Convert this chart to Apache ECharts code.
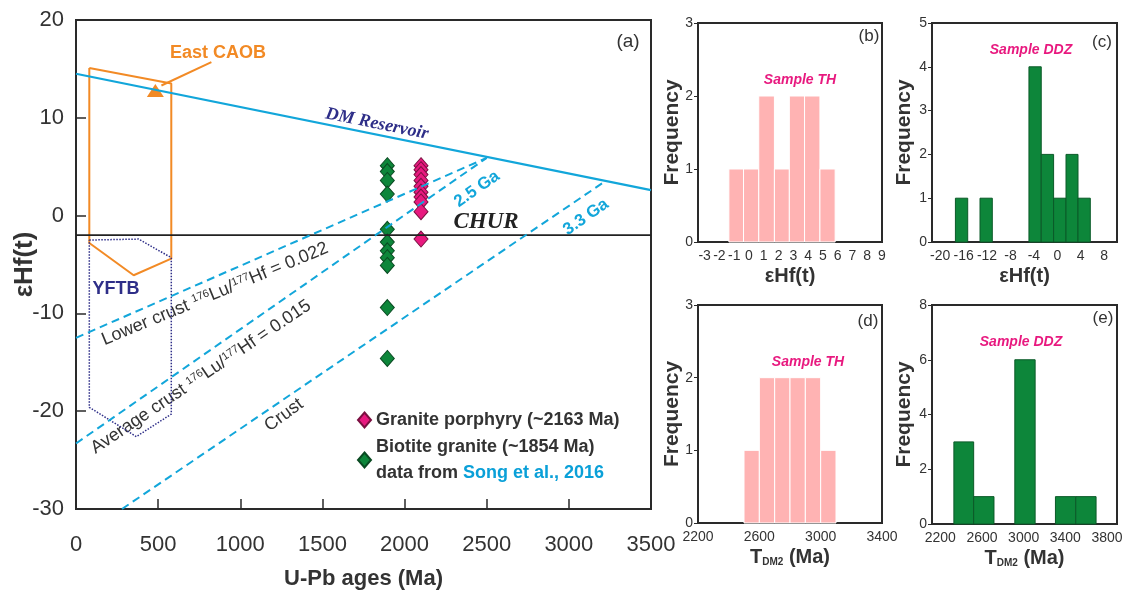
<!DOCTYPE html>
<html>
<head>
<meta charset="utf-8">
<script src="https://cdn.jsdelivr.net/npm/echarts@6/dist/echarts.min.js"></script>
<style>
  html, body { margin: 0; padding: 0; background: #fff; }
  #main { width: 1126px; height: 595px; }
</style>
</head>
<body>
<div id="main"></div>
<script>
// (a) eHf(t) vs U-Pb age
const porphyryName = 'Granite porphyry (~2163 Ma)';
const biotiteName = 'Biotite granite (~1854 Ma)';
const porphyryAge = 2100;
const porphyryEhf = [5.1, 4.7, 4.2, 3.6, 3.0, 2.4, 1.9, 1.4, 0.4, -2.4];
const biotiteAge = 1895;
const biotiteEhf = [5.1, 4.5, 3.6, 2.2, -1.4, -2.7, -3.6, -4.3, -5.1, -9.4, -14.6];

const dmLine = [[0, 14.5], [3500, 2.6]];
const churLine = [[0, -2], [3500, -2]];
const lowerCrustLine = [[0, -12.5], [2500, 5.9]];
const avgCrustLine = [[0, -23.3], [2500, 5.9]];
const crustLine = [[280, -30], [3220, 3.5]];
const eastCaobShape = [[81, 15.1], [580, 13.5], [580, -4.4], [351, -6.1], [81, -2.8], [81, 15.1]];
const yftbShape = [[81, -2.5], [381, -2.4], [580, -4.3], [580, -20.3], [367, -22.6], [81, -19.6], [81, -2.5]];
const caobPointer = [[824, 15.7], [520, 13.3]];
const caobPoint = [[483, 12.8]];

// (b) Sample TH eHf(t)
const thEhfBins = [[-1.36, -0.37], [-0.37, 0.66], [0.66, 1.72], [1.72, 2.73], [2.73, 3.76], [3.76, 4.8], [4.8, 5.83]];
const thEhfCounts = [1, 1, 2, 1, 2, 2, 1];
const thEhfTicks = [-3, -2, -1, 0, 1, 2, 3, 4, 5, 6, 7, 8, 9];
// (c) Sample DDZ eHf(t)
const ddzEhfBins = [[-17.4, -15.3], [-13.2, -11.1], [-4.84, -2.74], [-2.74, -0.63], [-0.63, 1.49], [1.49, 3.54], [3.54, 5.64]];
const ddzEhfCounts = [1, 1, 4, 2, 1, 2, 1];
const ddzEhfTicks = [-20, -16, -12, -8, -4, 0, 4, 8];
// (d) Sample TH TDM2
const thTdmBins = [[2500, 2600], [2600, 2700], [2700, 2800], [2800, 2900], [2900, 3000], [3000, 3100]];
const thTdmCounts = [1, 2, 2, 2, 2, 1];
const thTdmTicks = [2200, 2600, 3000, 3400];
// (e) Sample DDZ TDM2
const ddzTdmBins = [[2330, 2520], [2520, 2715], [2915, 3110], [3305, 3500], [3500, 3695]];
const ddzTdmCounts = [3, 1, 6, 1, 1];
const ddzTdmTicks = [2200, 2600, 3000, 3400, 3800];

const SANS = 'Liberation Sans';
const SERIF = 'Liberation Serif';
const CYAN = '#12a6da';
const ORANGE = '#f28a25';
const NAVY = '#2e2e88';
const PINK = '#e8197f';
const GREEN = '#0d863a';
const TXT = '#333';
const plain = v => String(v);

function histData(bins, counts) {
  return bins.map((b, i) => [b[0], b[1], counts[i]]);
}

function histRender(fill, stroke) {
  return function (params, api) {
    const p0 = api.coord([api.value(0), api.value(2)]);
    const p1 = api.coord([api.value(1), 0]);
    return {
      type: 'rect',
      shape: { x: p0[0], y: p0[1], width: p1[0] - p0[0], height: p1[1] - p0[1] },
      style: { fill: fill, stroke: stroke, lineWidth: 1 }
    };
  };
}

function lineSeries(data, color, width, type) {
  return {
    type: 'line', xAxisIndex: 0, yAxisIndex: 0, data: data,
    showSymbol: false, silent: true, animation: false,
    lineStyle: { color: color, width: width, type: type || 'solid' }
  };
}

const frame = { show: true, borderColor: '#2a2a2a', borderWidth: 2, backgroundColor: 'transparent', outerBoundsMode: 'none', containLabel: false };

function panelX(grid, min, max, ticks, name) {
  return {
    type: 'value', gridIndex: grid, min: min, max: max,
    splitLine: { show: false },
    axisLine: { show: true, onZero: false, lineStyle: { color: '#2a2a2a', width: 2 } },
    axisTick: { show: false },
    axisLabel: { customValues: ticks, formatter: plain, fontSize: 14, color: TXT, fontFamily: SANS, margin: 7 },
    name: name, nameLocation: 'middle', nameGap: 24, nameMoveOverlap: false,
    nameTextStyle: {
      fontSize: 20, fontWeight: 'bold', color: TXT, fontFamily: SANS,
      rich: { sub: { fontSize: 10, fontWeight: 'bold', color: TXT, fontFamily: SANS, verticalAlign: 'bottom' } }
    }
  };
}

function panelY(grid, max, interval, gap) {
  return {
    type: 'value', gridIndex: grid, min: 0, max: max, interval: interval,
    splitLine: { show: false },
    axisLine: { show: true, onZero: false, lineStyle: { color: '#2a2a2a', width: 2 } },
    axisTick: { show: true, inside: false, length: 4, lineStyle: { color: '#2a2a2a' } },
    axisLabel: { fontSize: 14, color: TXT, fontFamily: SANS, margin: 5 },
    name: 'Frequency', nameLocation: 'middle', nameGap: gap, nameMoveOverlap: false,
    nameTextStyle: { fontSize: 21, fontWeight: 'bold', color: TXT, fontFamily: SANS }
  };
}

function txt(x, y, text, font, color, rotDeg, rich) {
  return {
    type: 'text', x: x, y: y, rotation: (rotDeg || 0) * Math.PI / 180, silent: true,
    style: Object.assign({ text: text, fill: color, align: 'center', verticalAlign: 'middle', rich: rich || {} }, font)
  };
}

const supRich = { sup: { fontSize: 11, fontFamily: SANS, fill: TXT, color: TXT, verticalAlign: 'top' } };

const chart = echarts.init(document.getElementById('main'), null, { renderer: 'canvas' });

chart.setOption({
  animation: false,
  backgroundColor: '#fff',
  grid: [
    Object.assign({ left: 76, top: 20, width: 575, height: 489 }, frame),
    Object.assign({ left: 698, top: 23, width: 184, height: 219 }, frame),
    Object.assign({ left: 932, top: 23, width: 185, height: 219 }, frame),
    Object.assign({ left: 698, top: 305, width: 184, height: 218 }, frame),
    Object.assign({ left: 932, top: 305, width: 185, height: 219 }, frame)
  ],
  xAxis: [
    {
      type: 'value', gridIndex: 0, min: 0, max: 3500, interval: 500,
      splitLine: { show: false },
      axisLine: { show: true, onZero: false, lineStyle: { color: '#2a2a2a', width: 2 } },
      axisTick: { show: true, inside: true, length: 10, lineStyle: { color: '#2a2a2a', width: 1.5 } },
      axisLabel: { formatter: plain, fontSize: 22, color: TXT, fontFamily: SANS, margin: 25 },
      name: 'U-Pb ages (Ma)', nameLocation: 'middle', nameGap: 59, nameMoveOverlap: false,
      nameTextStyle: { fontSize: 22, fontWeight: 'bold', color: TXT, fontFamily: SANS }
    },
    panelX(1, -3.45, 9, thEhfTicks, 'εHf(t)'),
    panelX(2, -21.4, 10.2, ddzEhfTicks, 'εHf(t)'),
    panelX(3, 2200, 3400, thTdmTicks, 'T{sub|DM2} (Ma)'),
    panelX(4, 2120, 3896, ddzTdmTicks, 'T{sub|DM2} (Ma)')
  ],
  yAxis: [
    {
      type: 'value', gridIndex: 0, min: -30, max: 20, interval: 10,
      splitLine: { show: false },
      axisLine: { show: true, onZero: false, lineStyle: { color: '#2a2a2a', width: 2 } },
      axisTick: { show: true, inside: true, length: 10, lineStyle: { color: '#2a2a2a', width: 1.5 } },
      axisLabel: { fontSize: 22, color: TXT, fontFamily: SANS, margin: 12 },
      name: 'εHf(t)', nameLocation: 'middle', nameGap: 38, nameMoveOverlap: false,
      nameTextStyle: { fontSize: 26, fontWeight: 'bold', color: TXT, fontFamily: SANS }
    },
    panelY(1, 3, 1, 15),
    panelY(2, 5, 1, 17),
    panelY(3, 3, 1, 15),
    panelY(4, 8, 2, 17)
  ],
  legend: {
    data: [porphyryName, biotiteName],
    orient: 'vertical', left: 352, top: 402, itemGap: 1,
    itemWidth: 13, itemHeight: 15, selectedMode: false,
    textStyle: {
      fontSize: 18, fontWeight: 'bold', color: TXT, fontFamily: SANS, lineHeight: 26,
      rich: { blue: { fontSize: 18, fontWeight: 'bold', color: '#0aa0d8', fontFamily: SANS, lineHeight: 26 } }
    },
    formatter: function (name) {
      return name === biotiteName ? name + '\ndata from {blue|Song et al., 2016}' : name;
    }
  },
  series: [
    lineSeries(eastCaobShape, ORANGE, 2),
    lineSeries(yftbShape, NAVY, 1.5, 'dotted'),
    lineSeries(dmLine, CYAN, 2.2),
    lineSeries(churLine, '#222', 1.8),
    lineSeries(lowerCrustLine, CYAN, 2, [8, 5]),
    lineSeries(avgCrustLine, CYAN, 2, [8, 5]),
    lineSeries(crustLine, CYAN, 2, [8, 5]),
    lineSeries(caobPointer, ORANGE, 2),
    {
      type: 'scatter', xAxisIndex: 0, yAxisIndex: 0, data: caobPoint,
      symbol: 'triangle', symbolSize: [17, 13], silent: true,
      itemStyle: { color: ORANGE, opacity: 1 }
    },
    {
      name: biotiteName, type: 'scatter', xAxisIndex: 0, yAxisIndex: 0,
      data: biotiteEhf.map(v => [biotiteAge, v]),
      symbol: 'diamond', symbolSize: [14, 16],
      itemStyle: { color: GREEN, borderColor: '#0a4a22', borderWidth: 1, opacity: 1 }
    },
    {
      name: porphyryName, type: 'scatter', xAxisIndex: 0, yAxisIndex: 0,
      data: porphyryEhf.map(v => [porphyryAge, v]),
      symbol: 'diamond', symbolSize: [14, 16],
      itemStyle: { color: PINK, borderColor: '#7a1040', borderWidth: 1, opacity: 1 }
    },
    {
      type: 'custom', xAxisIndex: 1, yAxisIndex: 1, data: histData(thEhfBins, thEhfCounts),
      renderItem: histRender('#ffb3b3', '#fff'), encode: { x: [0, 1], y: 2 }
    },
    {
      type: 'custom', xAxisIndex: 2, yAxisIndex: 2, data: histData(ddzEhfBins, ddzEhfCounts),
      renderItem: histRender(GREEN, '#0b5a28'), encode: { x: [0, 1], y: 2 }
    },
    {
      type: 'custom', xAxisIndex: 3, yAxisIndex: 3, data: histData(thTdmBins, thTdmCounts),
      renderItem: histRender('#ffb3b3', '#fff'), encode: { x: [0, 1], y: 2 }
    },
    {
      type: 'custom', xAxisIndex: 4, yAxisIndex: 4, data: histData(ddzTdmBins, ddzTdmCounts),
      renderItem: histRender(GREEN, '#0b5a28'), encode: { x: [0, 1], y: 2 }
    }
  ],
  graphic: [
    txt(218, 53, 'East CAOB', { fontSize: 18, fontWeight: 'bold', fontFamily: SANS }, ORANGE),
    txt(116, 289, 'YFTB', { fontSize: 18, fontWeight: 'bold', fontFamily: SANS }, NAVY),
    txt(628, 42, '(a)', { fontSize: 19, fontFamily: SANS }, TXT),
    txt(377, 124, 'DM Reservoir', { fontSize: 18, fontWeight: 'bold', fontStyle: 'italic', fontFamily: SERIF }, NAVY, -11.5),
    txt(486, 222, 'CHUR', { fontSize: 23, fontWeight: 'bold', fontStyle: 'italic', fontFamily: SERIF }, '#222'),
    txt(477, 189, '2.5 Ga', { fontSize: 17, fontWeight: 'bold', fontFamily: SANS }, CYAN, 35),
    txt(586, 217, '3.3 Ga', { fontSize: 17, fontWeight: 'bold', fontFamily: SANS }, CYAN, 35),
    txt(215, 294, 'Lower crust {sup|176}Lu/{sup|177}Hf = 0.022', { fontSize: 18, fontFamily: SANS }, TXT, 22.5, supRich),
    txt(201, 377, 'Average crust {sup|176}Lu/{sup|177}Hf = 0.015', { fontSize: 18, fontFamily: SANS }, TXT, 34, supRich),
    txt(284, 415, 'Crust', { fontSize: 18, fontFamily: SANS }, TXT, 36),
    txt(869, 36, '(b)', { fontSize: 17, fontFamily: SANS }, TXT),
    txt(1102, 42, '(c)', { fontSize: 17, fontFamily: SANS }, TXT),
    txt(868, 321, '(d)', { fontSize: 17, fontFamily: SANS }, TXT),
    txt(1103, 318, '(e)', { fontSize: 17, fontFamily: SANS }, TXT),
    txt(800, 80, 'Sample TH', { fontSize: 14, fontWeight: 'bold', fontStyle: 'italic', fontFamily: SANS }, PINK),
    txt(1031, 50, 'Sample DDZ', { fontSize: 14, fontWeight: 'bold', fontStyle: 'italic', fontFamily: SANS }, PINK),
    txt(808, 362, 'Sample TH', { fontSize: 14, fontWeight: 'bold', fontStyle: 'italic', fontFamily: SANS }, PINK),
    txt(1021, 342, 'Sample DDZ', { fontSize: 14, fontWeight: 'bold', fontStyle: 'italic', fontFamily: SANS }, PINK)
  ]
});
</script>
</body>
</html>
